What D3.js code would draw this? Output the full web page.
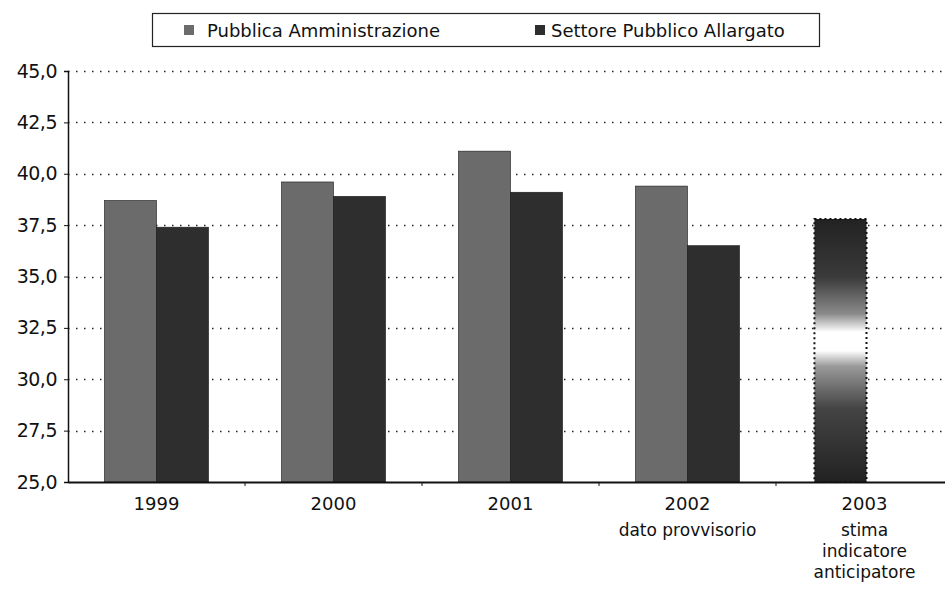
<!DOCTYPE html>
<html>
<head>
<meta charset="utf-8">
<script src="https://cdn.jsdelivr.net/npm/d3@7"></script>
<style>
  body { margin: 0; background: #fff; }
  svg { display: block; font-family: "DejaVu Sans", sans-serif; }
</style>
</head>
<body>
<div id="chart"></div>
<script>
// categories and their extra label lines
var years = ["1999", "2000", "2001", "2002", "2003"];
var subLabels = [[], [], [], ["dato provvisorio"], ["stima", "indicatore", "anticipatore"]];

// series
var seriesNames = ["Pubblica Amministrazione", "Settore Pubblico Allargato"];
var pubblicaAmm = [38.7, 39.6, 41.1, 39.4, null];
var settorePubb = [37.4, 38.9, 39.1, 36.5, null];
// 2003 estimate (single shaded bar)
var stima2003 = [{ year: "2003", value: 37.8 }];

var yTicks = [25, 27.5, 30, 32.5, 35, 37.5, 40, 42.5, 45];

var width = 945, height = 592;
var plotLeft = 68, plotTop = 71, plotBottom = 482, plotRight = 953;

var svg = d3.select("#chart").append("svg")
    .attr("width", width)
    .attr("height", height);

var it = d3.formatLocale({ decimal: ",", thousands: ".", grouping: [3], currency: ["", "€"] });
var fmt = it.format(".1f");

var x = d3.scaleBand().domain(years).range([plotLeft, plotRight]).padding(0);
var x1 = d3.scaleBand().domain(seriesNames).range([0, x.bandwidth()])
    .paddingInner(0).paddingOuter(0.7);
var y = d3.scaleLinear().domain([25, 45]).range([plotBottom, plotTop]);
var colors = d3.scaleOrdinal().domain(seriesNames).range(["#6b6b6b", "#2e2e2e"]);

// gradient for the estimate bar
var defs = svg.append("defs");
var grad = defs.append("linearGradient").attr("id", "stimaGrad")
    .attr("x1", 0).attr("y1", 0).attr("x2", 0).attr("y2", 1);
grad.append("stop").attr("offset", "0%").attr("stop-color", "#222");
grad.append("stop").attr("offset", "22%").attr("stop-color", "#3a3a3a");
grad.append("stop").attr("offset", "36%").attr("stop-color", "#8a8a8a");
grad.append("stop").attr("offset", "43%").attr("stop-color", "#ffffff");
grad.append("stop").attr("offset", "50%").attr("stop-color", "#ffffff");
grad.append("stop").attr("offset", "56%").attr("stop-color", "#9a9a9a");
grad.append("stop").attr("offset", "72%").attr("stop-color", "#444");
grad.append("stop").attr("offset", "100%").attr("stop-color", "#222");

// dotted gridlines
svg.append("g").selectAll("line")
    .data(yTicks.filter(function (d) { return d > 25; }))
    .enter().append("line")
    .attr("x1", plotLeft).attr("x2", width)
    .attr("y1", function (d) { return Math.round(y(d)) + 0.5; })
    .attr("y2", function (d) { return Math.round(y(d)) + 0.5; })
    .attr("stroke", "#222")
    .attr("stroke-width", 1.3)
    .attr("stroke-dasharray", "1.5,6.5");

// bars
var data = [];
years.forEach(function (yr, i) {
    if (pubblicaAmm[i] != null) data.push({ year: yr, s: seriesNames[0], v: pubblicaAmm[i] });
    if (settorePubb[i] != null) data.push({ year: yr, s: seriesNames[1], v: settorePubb[i] });
});

svg.append("g").selectAll("rect")
    .data(data)
    .enter().append("rect")
    .attr("x", function (d) { return x(d.year) + x1(d.s); })
    .attr("y", function (d) { return y(d.v); })
    .attr("width", x1.bandwidth())
    .attr("height", function (d) { return y(25) - y(d.v); })
    .attr("fill", function (d) { return colors(d.s); })
    .attr("stroke", "#1a1a1a")
    .attr("stroke-width", 0.6);

// estimate bar
svg.append("g").selectAll("rect")
    .data(stima2003)
    .enter().append("rect")
    .attr("x", function (d) { return x(d.year) + x1(seriesNames[0]) + 2; })
    .attr("y", function (d) { return y(d.value); })
    .attr("width", x1.bandwidth())
    .attr("height", function (d) { return y(25) - y(d.value); })
    .attr("fill", "url(#stimaGrad)")
    .attr("stroke", "#111")
    .attr("stroke-width", 2)
    .attr("stroke-dasharray", "2,3");

// y axis
var yAxis = svg.append("g")
    .attr("transform", "translate(" + plotLeft + ",0)")
    .call(d3.axisLeft(y).tickValues(yTicks).tickFormat(fmt).tickSize(4).tickPadding(7));
yAxis.select(".domain").attr("stroke", "#111").attr("stroke-width", 1.5);
yAxis.selectAll(".tick line").attr("stroke", "#111");
yAxis.selectAll("text").attr("font-size", 19).attr("fill", "#111")
    .attr("font-family", "DejaVu Sans").attr("letter-spacing", -0.5);

// x axis
var xAxis = svg.append("g")
    .attr("transform", "translate(0," + plotBottom + ")")
    .call(d3.axisBottom(x).tickSize(0).tickPadding(15));
xAxis.select(".domain").attr("stroke", "#111").attr("stroke-width", 1.8);
xAxis.selectAll("text").attr("font-size", 18).attr("fill", "#111")
    .attr("font-family", "DejaVu Sans");

// boundary ticks between categories
svg.append("g").selectAll("line")
    .data(years.slice(1))
    .enter().append("line")
    .attr("x1", function (d) { return x(d); })
    .attr("x2", function (d) { return x(d); })
    .attr("y1", plotBottom).attr("y2", plotBottom + 4)
    .attr("stroke", "#111");

// extra label lines under years
years.forEach(function (yr, i) {
    subLabels[i].forEach(function (t, j) {
        svg.append("text")
            .attr("x", x(yr) + x.bandwidth() / 2)
            .attr("y", plotBottom + 54 + j * 21)
            .attr("text-anchor", "middle")
            .attr("font-size", 17)
            .attr("fill", "#111")
            .text(t);
    });
});

// legend
var legend = svg.append("g");
legend.append("rect")
    .attr("x", 152.5).attr("y", 13.5)
    .attr("width", 667).attr("height", 33)
    .attr("fill", "#fff").attr("stroke", "#222").attr("stroke-width", 1.2);

var legX = [184, 535];
seriesNames.forEach(function (s, i) {
    legend.append("rect")
        .attr("x", legX[i]).attr("y", 25)
        .attr("width", 10).attr("height", 10)
        .attr("fill", colors(s));
    legend.append("text")
        .attr("x", legX[i] + (i == 0 ? 23 : 16)).attr("y", 36.5)
        .attr("font-size", 18)
        .attr("fill", "#111")
        .text(s);
});
</script>
</body>
</html>
